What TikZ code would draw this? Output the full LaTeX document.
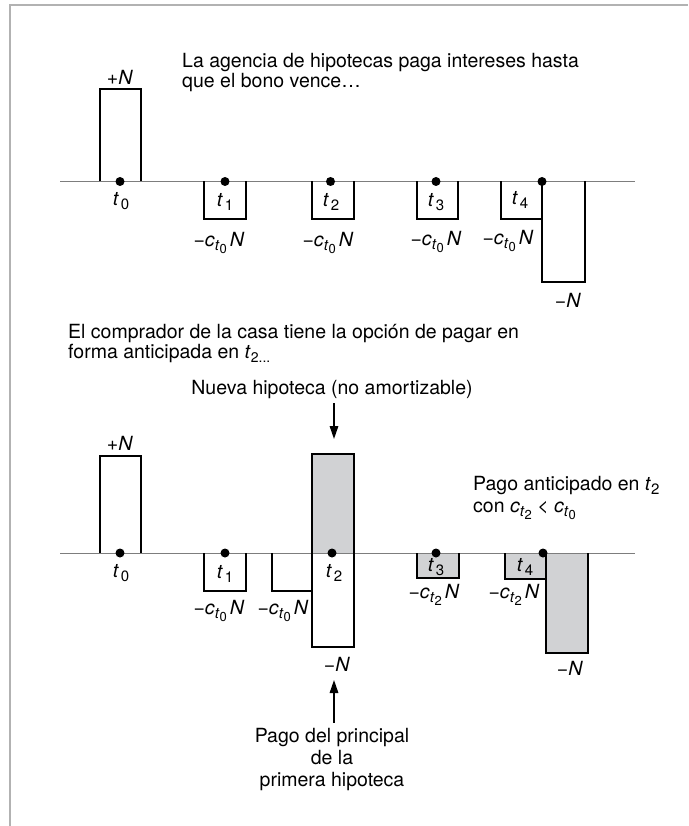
\documentclass[tikz,border=0pt]{standalone}
\usepackage{fontspec}
\setmainfont{TeX Gyre Heros}
\usetikzlibrary{arrows.meta}
\definecolor{boxgrey}{RGB}{209,210,212}
\definecolor{axisgrey}{RGB}{125,125,125}
\definecolor{framegrey}{RGB}{178,178,178}
\newcommand{\Nit}{\textit{N}}
\newcommand{\tlab}[1]{\textit{t}\kern2pt\raisebox{-4.5pt}{\fontsize{15}{15}\selectfont #1}}
\newcommand{\csub}[1]{\textit{c}\raisebox{-4pt}{\fontsize{15}{15}\selectfont\textit{t}\raisebox{-3pt}{\fontsize{13}{13}\selectfont #1}}}
\newcommand{\mcN}[1]{−\csub{#1}\kern3pt\textit{N}}
\begin{document}
\begin{tikzpicture}[x=1pt,y=-1pt,font=\fontsize{19.5}{20}\selectfont,
  lbl/.style={inner sep=0pt,anchor=center},
  txt/.style={inner sep=0pt,anchor=base west},
  ctxt/.style={inner sep=0pt,anchor=base},
  bar/.style={line width=2pt,line join=miter},
  axisline/.style={axisgrey,line width=1pt},
  dotn/.style={circle,fill=black,inner sep=0pt,minimum size=9pt},
  arr/.style={line width=1.5pt,-{Triangle[length=13pt,width=8.5pt]}}]
\useasboundingbox (0,0) rectangle (688,826);
\draw[framegrey,line width=2pt] (10,826) -- (10,5) -- (688,5);

% ---------- top section ----------
\node[txt] (txtA1) at (182,68) {La agencia de hipotecas paga intereses hasta};
\node[txt] (txtA2) at (182,88) {que el bono vence…};

\draw[axisline] (60,181.5) -- (635,181.5);
\draw[bar] (99.5,181.5) -- (99.5,89) -- (141,89) -- (141,181.5);
\draw[bar] (204,181.5) -- (204,219) -- (245.5,219) -- (245.5,181.5);
\draw[bar] (312,181.5) -- (312,219) -- (353.5,219) -- (353.5,181.5);
\draw[bar] (416.5,181.5) -- (416.5,219) -- (458,219) -- (458,181.5);
\draw[bar] (501,181.5) -- (501,219) -- (542,219);
\draw[bar] (542,181.5) -- (542,281.5) -- (584.5,281.5) -- (584.5,181.5);

\node[dotn] (dA0) at (120,181.5) {};
\node[dotn] (dA1) at (225,181.5) {};
\node[dotn] (dA2) at (330.5,181.5) {};
\node[dotn] (dA3) at (436,181.5) {};
\node[dotn] (dA4) at (542,181.5) {};

\node[lbl] (pNA) at (120,77) {+\Nit};
\node[lbl] (tA0) at (121,201) {\tlab{0}};
\node[lbl] (tA1) at (225,202) {\tlab{1}};
\node[lbl] (tA2) at (331,202) {\tlab{2}};
\node[lbl] (tA3) at (436,202) {\tlab{3}};
\node[lbl] (tA4) at (520,200) {\tlab{4}};
\node[lbl] (cA1) at (219,243) {\mcN{0}};
\node[lbl] (cA2) at (328,243) {\mcN{0}};
\node[lbl] (cA3) at (436,242) {\mcN{0}};
\node[lbl] (cA4) at (508,241) {\mcN{0}};
\node[lbl] (mNA) at (568,300) {−\Nit};

% ---------- bottom section ----------
\node[txt] (txtB1) at (68,338) {El comprador de la casa tiene la opción de pagar en};
\node[txt] (txtB2) at (68,358) {forma anticipada en \textit{t}\raisebox{-4pt}{\fontsize{14}{14}\selectfont 2...}};
\node[ctxt] (nueva) at (332,394) {Nueva hipoteca (no amortizable)};
\coordinate (nTip) at (334,439);
\draw[arr] ([yshift=-5pt]nueva.south -| nTip) -- (nTip);

\node[txt] (pagoA) at (473,490) {Pago anticipado en \textit{t}\raisebox{-4pt}{\fontsize{15}{15}\selectfont 2}};
\node[txt] (pagoB) at (473,512) {con \csub{2} < \csub{0}};

\fill[boxgrey] (312,453.5) rectangle (353.5,553);
\fill[boxgrey] (416.5,553) rectangle (458.5,578);
\fill[boxgrey] (505,553) rectangle (546,579);
\fill[boxgrey] (546,553) rectangle (588,652.5);

\draw[axisline] (60,553) -- (635,553);
\draw[bar] (99.5,553) -- (99.5,456) -- (141,456) -- (141,553);
\draw[bar] (204,553) -- (204,590.5) -- (245.5,590.5) -- (245.5,553);
\draw[bar] (271.5,553) -- (271.5,590.5) -- (312,590.5);
\draw[bar] (312,453.5) rectangle (353.5,647);
\draw[bar] (416.5,553) -- (416.5,578) -- (458.5,578) -- (458.5,553);
\draw[bar] (505,553) -- (505,579) -- (546,579);
\draw[bar] (546,553) -- (546,652.5) -- (588,652.5) -- (588,553);

\node[dotn] (dB0) at (120,553) {};
\node[dotn] (dB1) at (225,553) {};
\node[dotn] (dB2) at (332,553) {};
\node[dotn] (dB3) at (436,553) {};
\node[dotn] (dB4) at (543,553) {};

\node[lbl] (pNB) at (120,443) {+\Nit};
\node[lbl] (tB0) at (121,573) {\tlab{0}};
\node[lbl] (tB1) at (225,574) {\tlab{1}};
\node[lbl] (tB2) at (334,573) {\tlab{2}};
\node[lbl] (tB3) at (436,567) {\tlab{3}};
\node[lbl] (tB4) at (525,567) {\tlab{4}};
\node[lbl] (cB1) at (219,611) {\mcN{0}};
\node[lbl] (cB1b) at (283,611) {\mcN{0}};
\node[lbl] (cB3) at (434,595) {\mcN{2}};
\node[lbl] (cB4) at (514,595) {\mcN{2}};
\node[lbl] (mNB2) at (337,664) {−\Nit};
\node[lbl] (mNB4) at (570,668) {−\Nit};

\node[ctxt] (pp1) at (332,742) {Pago del principal};
\node[ctxt] (pp2) at (332,764) {de la};
\node[ctxt] (pp3) at (332,786) {primera hipoteca};
\coordinate (pTip) at (334,680);
\draw[arr] ([yshift=5pt]pp1.north -| pTip) -- (pTip);
\end{tikzpicture}
\end{document}
